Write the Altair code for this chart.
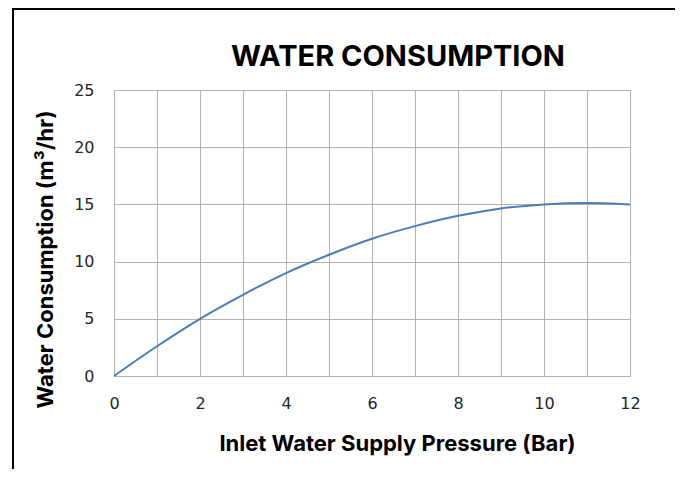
import altair as alt
import pandas as pd

pressure = [0, 1, 2, 3, 4, 5, 6, 7, 8, 9, 10, 11, 12]
consumption = [0, 2.6, 5.0, 7.1, 9.0, 10.6, 12.0, 13.1, 14.0, 14.65, 15.0, 15.12, 15.0]
chart_title = "WATER CONSUMPTION"

df = pd.DataFrame({"p": pressure, "c": consumption})

x_ticks = list(range(0, 13))
y_ticks = [0, 5, 10, 15, 20, 25]

line = alt.Chart(df).mark_line(
    color="#4a7ebb", strokeWidth=2, interpolate="monotone", clip=False
).encode(
    x=alt.X(
        "p:Q",
        scale=alt.Scale(domain=[0, 12], nice=False),
        axis=alt.Axis(
            values=x_ticks,
            labelExpr="datum.value % 2 == 0 ? datum.label : ''",
            title="Inlet Water Supply Pressure (Bar)",
            titleX=283,
            titleY=67,
            titleBaseline="middle",
            titleAnchor="middle",
            titleAlign="center",
            labelPadding=19,
            labelFlush=False,
        ),
    ),
    y=alt.Y(
        "c:Q",
        scale=alt.Scale(domain=[0, 25], nice=False),
        axis=alt.Axis(
            values=y_ticks,
            title="Water Consumption (m³/hr)",
            titleX=-69,
            titleY=169,
            titleAngle=-90,
            titleBaseline="middle",
            titleAlign="center",
            labelPadding=20,
        ),
    ),
)

one = pd.DataFrame({"k": [0]})

border = alt.Chart(one).mark_rect(
    fill=None, stroke="black", strokeWidth=2, clip=False
).encode(
    x=alt.value(-101),
    x2=alt.value(563),
    y=alt.value(-81),
    y2=alt.value(420),
)

title = alt.Chart(one).mark_text(
    font="Inter", fontSize=29, fontWeight="bold", color="black",
    align="center", baseline="alphabetic", clip=False
).encode(
    x=alt.value(284),
    y=alt.value(-24),
    text=alt.value(chart_title),
)

chart = alt.layer(border, line, title).properties(
    width=516,
    height=286,
    autosize=alt.AutoSizeParams(type="none"),
    padding={"left": 106, "top": 82, "right": 45, "bottom": 93},
).configure_axis(
    grid=True,
    gridColor="#b3b3b3",
    gridWidth=1,
    domain=False,
    ticks=False,
    labelFont="DejaVu Sans",
    labelFontSize=16,
    labelColor="#262626",
    titleFont="Inter",
    titleFontSize=22,
    titleFontWeight="bold",
    titleColor="black",
).configure_view(
    stroke="#b3b3b3", strokeWidth=1
)

chart.save("out.html", embed_options={"renderer": "svg", "actions": False})
